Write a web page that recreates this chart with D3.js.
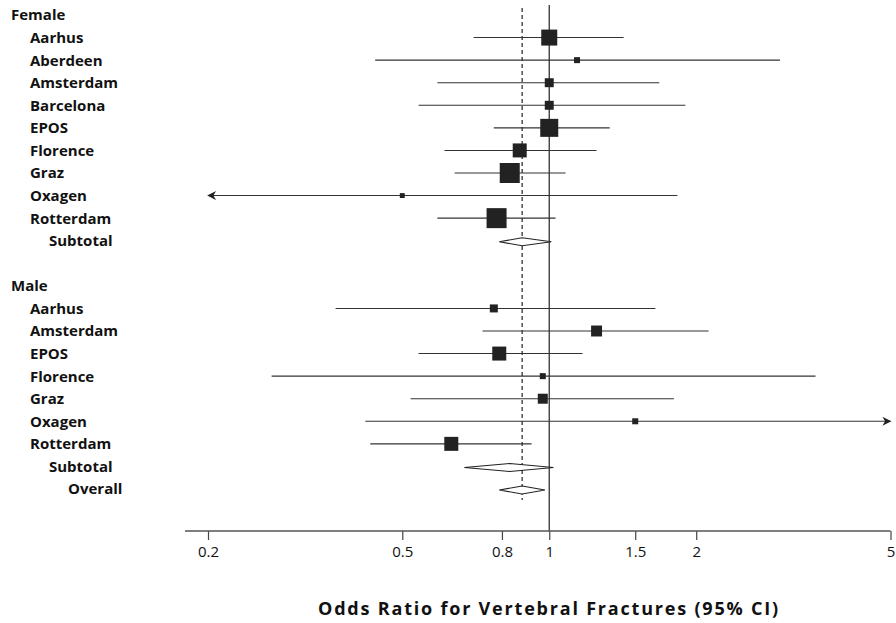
<!DOCTYPE html>
<meta charset="utf-8">
<script src="https://d3js.org/d3.v7.min.js"></script>
<body style="margin:0;background:#fff;">
<svg id="forest" width="896" height="623"></svg>
<script>

// rows from top to bottom (blank row between the two groups)
const labels = ["Female", "Aarhus", "Aberdeen", "Amsterdam", "Barcelona", "EPOS", "Florence", "Graz", "Oxagen", "Rotterdam", "Subtotal",
                "", "Male", "Aarhus", "Amsterdam", "EPOS", "Florence", "Graz", "Oxagen", "Rotterdam", "Subtotal", "Overall"];
// 0 = group header, 1 = study, 2 = subtotal, 3 = overall
const levels = [0, 1, 1, 1, 1, 1, 1, 1, 1, 1, 2, 0, 0, 1, 1, 1, 1, 1, 1, 1, 2, 3];

// odds ratios and 95% CI, null where the row has no estimate
const oddsRatio = [null, 1.00, 1.14, 1.00, 1.00, 1.00, 0.87, 0.83, 0.50, 0.78, 0.88,
                   null, null, 0.77, 1.25, 0.79, 0.97, 0.97, 1.50, 0.63, 0.83, 0.88];
const ciLow     = [null, 0.70, 0.44, 0.59, 0.54, 0.77, 0.61, 0.64, 0.15, 0.59, 0.79,
                   null, null, 0.365, 0.73, 0.54, 0.27, 0.52, 0.42, 0.43, 0.67, 0.79];
const ciHigh    = [null, 1.42, 2.97, 1.68, 1.90, 1.33, 1.25, 1.08, 1.83, 1.03, 1.01,
                   null, null, 1.65, 2.12, 1.17, 3.51, 1.80, 6.00, 0.92, 1.02, 0.98];
// study weights (drive the square size)
const weights   = [null, 6.4, 0.9, 2.0, 2.0, 8.1, 4.9, 10.0, 0.6, 10.0, null,
                   null, null, 1.6, 3.0, 4.9, 0.9, 2.5, 0.9, 4.9, null, null];

const overallOR = 0.88;
const tickValues = [0.2, 0.5, 0.8, 1, 1.5, 2, 5];

const svg = d3.select("#forest");

const x = d3.scaleLog().domain([0.2, 5]).range([208, 890.5]);
const y = d3.scalePoint().domain(d3.range(labels.length)).range([15, 489]);
const side = d3.scaleSqrt().domain([0, 10]).range([0, 20]);

const axisY = 531;

// arrow heads
const defs = svg.append("defs");
defs.append("marker")
    .attr("id", "arrow")
    .attr("viewBox", "0 0 10 10")
    .attr("refX", 9).attr("refY", 5)
    .attr("markerWidth", 12).attr("markerHeight", 9)
    .attr("markerUnits", "userSpaceOnUse")
    .attr("orient", "auto-start-reverse")
  .append("path")
    .attr("d", "M0,0 L10,5 L0,10 L3,5 Z")
    .attr("fill", "#222");

// row labels
svg.append("g")
  .selectAll("text")
  .data(labels)
  .join("text")
    .attr("x", (d, i) => 11 + levels[i] * 19)
    .attr("y", (d, i) => y(i))
    .attr("dy", "0.36em")
    .style("font-family", "'Open Sans', sans-serif")
    .style("font-weight", "bold")
    .style("font-size", "15px")
    .style("fill", "#111")
    .text(d => d);

// no-effect line at 1
svg.append("line")
    .attr("x1", x(1)).attr("x2", x(1))
    .attr("y1", 5).attr("y2", axisY)
    .style("stroke", "#333")
    .style("stroke-width", 1.3);

// overall estimate, dashed
svg.append("line")
    .attr("x1", x(overallOR)).attr("x2", x(overallOR))
    .attr("y1", 8).attr("y2", 500)
    .style("stroke", "#222")
    .style("stroke-width", 1.2)
    .style("stroke-dasharray", "4,3");

const rows = d3.range(labels.length).filter(i => oddsRatio[i] !== null);
const studies = rows.filter(i => levels[i] === 1);
const pooled = rows.filter(i => levels[i] >= 2);

const [dMin, dMax] = x.domain();

// confidence intervals
svg.append("g")
  .selectAll("line")
  .data(studies)
  .join("line")
    .attr("x1", i => x(Math.max(ciLow[i], dMin)))
    .attr("x2", i => x(Math.min(ciHigh[i], dMax)))
    .attr("y1", i => y(i)).attr("y2", i => y(i))
    .attr("marker-start", i => ciLow[i] < dMin ? "url(#arrow)" : null)
    .attr("marker-end", i => ciHigh[i] > dMax ? "url(#arrow)" : null)
    .style("stroke", "#333")
    .style("stroke-width", 1.1);

// study squares
svg.append("g")
  .selectAll("rect")
  .data(studies)
  .join("rect")
    .attr("x", i => x(oddsRatio[i]) - side(weights[i]) / 2)
    .attr("y", i => y(i) - side(weights[i]) / 2)
    .attr("width", i => side(weights[i]))
    .attr("height", i => side(weights[i]))
    .style("fill", "#222");

// pooled diamonds
svg.append("g")
  .selectAll("path")
  .data(pooled)
  .join("path")
    .attr("d", i => {
      const c = y(i) + 1;
      return `M${x(ciLow[i])},${c} L${x(oddsRatio[i])},${c - 4} L${x(ciHigh[i])},${c} L${x(oddsRatio[i])},${c + 4} Z`;
    })
    .style("fill", "#fff")
    .style("stroke", "#222")
    .style("stroke-width", 1.1);

// x axis
const axis = svg.append("g")
    .attr("transform", `translate(0,${axisY})`)
    .call(d3.axisBottom(x).tickValues(tickValues).tickFormat(d3.format("")).tickSize(9).tickSizeOuter(0));
axis.select(".domain").remove();
axis.append("line")
    .attr("x1", 185).attr("x2", x(5))
    .style("stroke", "#555")
    .style("stroke-width", 1.5);
axis.selectAll(".tick line").style("stroke", "#444").style("stroke-width", 1.2);
axis.selectAll(".tick text")
    .attr("y", 15)
    .style("font-family", "'Open Sans', sans-serif")
    .style("font-size", "15px")
    .style("fill", "#111");

// axis title
svg.append("text")
    .attr("x", 549)
    .attr("y", 615)
    .attr("text-anchor", "middle")
    .style("font-family", "'Open Sans', sans-serif")
    .style("font-weight", "bold")
    .style("font-size", "18px")
    .style("letter-spacing", "1.8px")
    .style("fill", "#111")
    .text("Odds Ratio for Vertebral Fractures (95% CI)");

</script>
</body>
